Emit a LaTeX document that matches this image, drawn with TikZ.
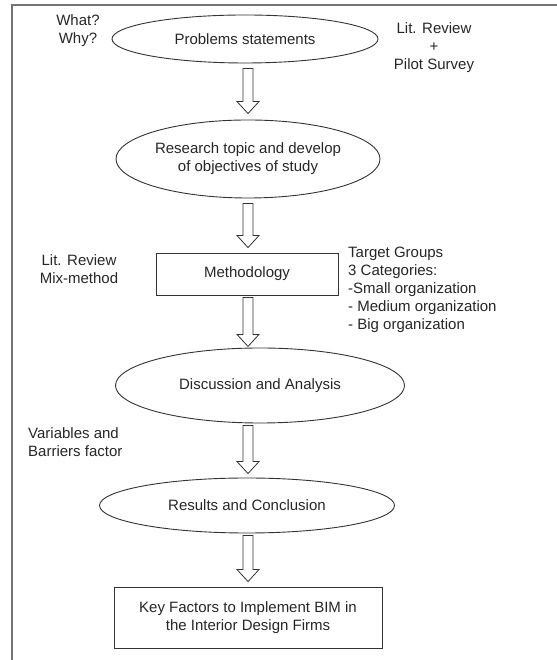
\documentclass[tikz,border=0pt]{standalone}
\usepackage{fontspec}
\setmainfont{Liberation Sans}
\usetikzlibrary{shapes.geometric,calc}
\tikzset{
  lbl/.style={font=\fontsize{15}{18}\selectfont, text=black!85, inner sep=0pt, align=center},
  ell/.style={ellipse, draw=black!80, line width=0.9pt, inner sep=0pt, font=\fontsize{15}{18}\selectfont, text=black!85, align=center},
  box/.style={rectangle, draw=black!80, line width=0.9pt, inner sep=0pt, font=\fontsize{15}{18}\selectfont, text=black!85, align=center},
  arrowline/.style={draw=black!80, line width=0.8pt, fill=white},
  frame/.style={draw=black!55, line width=1.6pt}
}
\newcommand\harrow[2]{\draw[arrowline] let \p1=#1, \p2=#2 in
  (\x1-5pt,\y1) -- (\x1+5pt,\y1) -- (\x1+5pt,\y2+12pt) -- (\x1+11pt,\y2+12pt) --
  (\x1,\y2) -- (\x1-11pt,\y2+12pt) -- (\x1-5pt,\y2+12pt) -- cycle;}
\begin{document}
\begin{tikzpicture}[x=1pt,y=1pt]
\useasboundingbox (0,0) rectangle (556,660);
\coordinate (fa) at (12,-10);
\coordinate (fb) at (12,655);
\coordinate (fc) at (580,655);
\draw[frame] (fa) -- (fb) -- (fc);

\node[ell, minimum width=266pt, minimum height=48pt] (e1) at (245,621) {Problems statements};
\node[lbl] (ww) at (78,629) {What?\\Why?};
\node[lbl] (lr1) at (434,612) {Lit. Review\\+\\Pilot Survey};

\node[ell, minimum width=264pt, minimum height=78pt] (e2) at (248,501) {Research topic and develop\\of objectives of study};

\node[box, minimum width=182pt, minimum height=42pt] (m) at (247,386) {Methodology};
\node[lbl] (lr2) at (79,391) {Lit. Review\\Mix-method};
\node[lbl, anchor=west, align=left] (tg) at (348,370.5) {Target Groups\\3 Categories:\\-Small organization\\- Medium organization\\- Big organization};

\node[ell, minimum width=289pt, minimum height=75pt] (e3) at (260,274.5) {Discussion and Analysis};
\node[lbl, anchor=west, align=left] (vb) at (28,217.5) {Variables and\\Barriers factor};

\node[ell, minimum width=295pt, minimum height=55pt] (e4) at (247,154.5) {Results and Conclusion};

\node[box, minimum width=268pt, minimum height=61pt] (k) at (248,42.5) {Key Factors to Implement BIM in\\the Interior Design Firms};

\harrow{($(e1.south)+(3,-5)$)}{($(e2.north)+(0,6)$)}
\harrow{($(e2.south)+(0,-5)$)}{($(m.north)+(1,5)$)}
\harrow{($(m.south)+(1,-2)$)}{($(m.south)+(1,-51)$)}
\harrow{($(e4.north)+(1,52)$)}{($(e4.north)+(1,4)$)}
\harrow{($(e4.south)+(1,-2)$)}{($(k.north)+(0,5)$)}
\end{tikzpicture}
\end{document}
